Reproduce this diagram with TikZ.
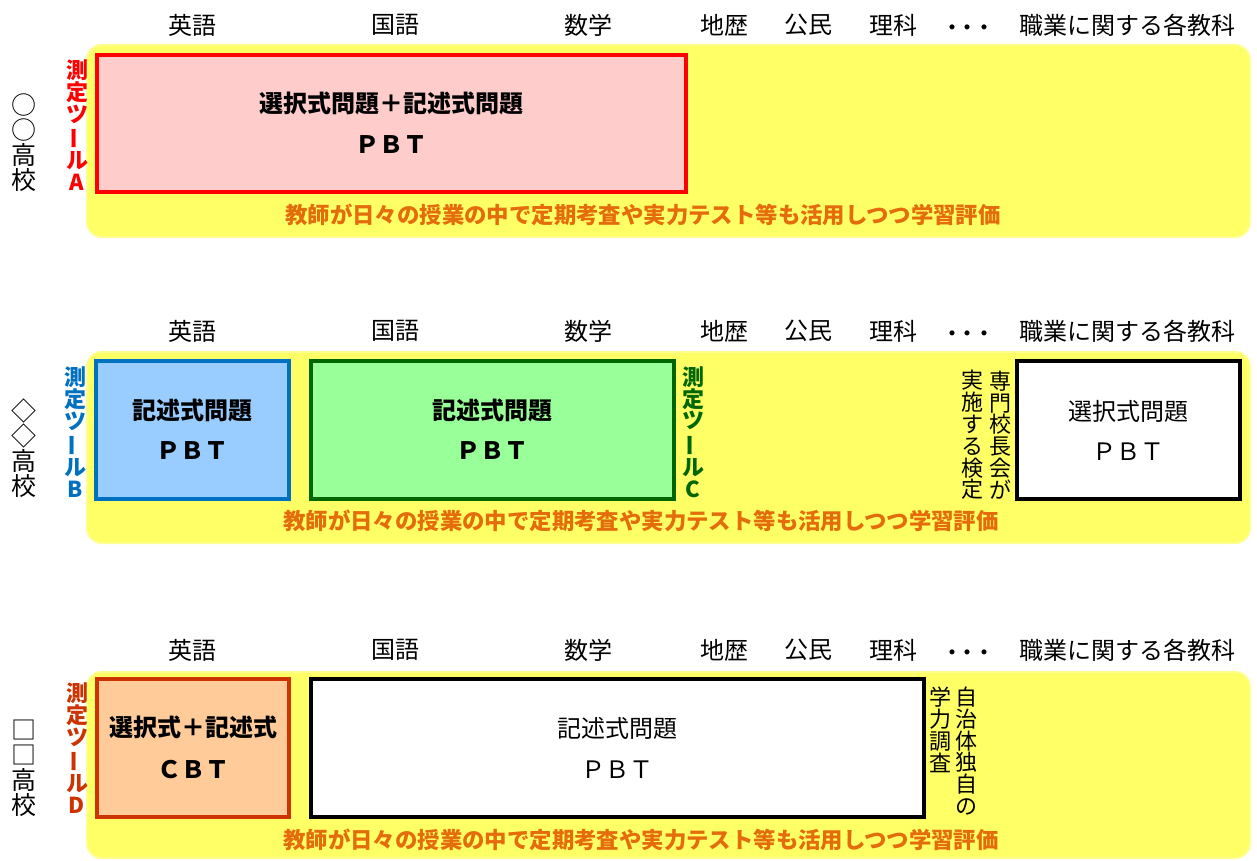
\documentclass[tikz,border=0pt]{standalone}
\usepackage{fontspec}
\setmainfont{Noto Sans CJK JP}
\usepackage{graphicx}

\definecolor{bandyellow}{RGB}{255,255,102}
\definecolor{bandedge}{RGB}{255,255,140}
\definecolor{redline}{RGB}{255,0,0}
\definecolor{redfill}{RGB}{255,204,204}
\definecolor{blueline}{RGB}{0,112,192}
\definecolor{bluefill}{RGB}{153,204,255}
\definecolor{greenline}{RGB}{0,102,0}
\definecolor{greenfill}{RGB}{153,255,153}
\definecolor{orline}{RGB}{204,51,0}
\definecolor{orfill}{RGB}{255,204,153}
\definecolor{evalorange}{RGB}{228,108,10}

% vertical long vowel mark
\newcommand{\chouon}{\rotatebox[origin=c]{90}{ー}}

\tikzset{
  band/.style={fill=bandyellow, draw=bandedge, line width=1pt, rounded corners=7.5pt},
  toolbox/.style={line width=2pt},
  subject/.style={font=\fontsize{12}{12}\selectfont, inner sep=0pt},
  boxtext/.style={font=\bfseries\fontsize{12}{12}\selectfont, inner sep=0pt},
  plaintext/.style={font=\fontsize{12}{12}\selectfont, inner sep=0pt},
  evaltext/.style={font=\bfseries\fontsize{11.2}{11.2}\selectfont, text=evalorange, inner sep=0pt},
  toollabel/.style={font=\bfseries\fontsize{11}{10.9}\selectfont, align=center, inner sep=0pt},
  tatetext/.style={font=\fontsize{11}{10.9}\selectfont, align=center, inner sep=0pt},
  school/.style={font=\fontsize{12.5}{12.5}\selectfont, align=center, inner sep=0pt}
}

\begin{document}
\begin{tikzpicture}[x=0.5pt,y=-0.5pt]
  \useasboundingbox (0,0) rectangle (1257,861);

  % subject headers of each school
  \foreach \y in {25,331,650}{
    \node[subject] at (192,\y) {英語};
    \node[subject] at (395,\y) {国語};
    \node[subject] at (588,\y) {数学};
    \node[subject] at (724,\y) {地歴};
    \node[subject] at (808,\y) {公民};
    \node[subject] at (893,\y) {理科};
    \node[subject] at (968,\y+6) {\bfseries ･\,･\,･};
    \node[subject] at (1127,\y) {職業に関する各教科};
  }

  % yellow bands
  \draw[band] (87,45) rectangle (1250,237);
  \draw[band] (87,352) rectangle (1250,543);
  \draw[band] (87,672) rectangle (1250,858);

  % school names
  \node[school] (s1) at (24,143) {○\\○\\高\\校};
  \node[school] (s2) at (24,448) {◇\\◇\\高\\校};
  \node[school] (s3) at (24,768) {□\\□\\高\\校};

  % first school
  \draw[toolbox, draw=redline, fill=redfill] (97,55) rectangle (686,192);
  \node[toollabel, text=redline] (ta) at (77,125) {測\\定\\ツ\\\chouon\\ル\\A};
  \node[boxtext] (a1) at (391,103) {選択式問題＋記述式問題};
  \node[boxtext] (a2) at (391,145) {ＰＢＴ};
  \node[evaltext] (e1) at (643,215) {教師が日々の授業の中で定期考査や実力テスト等も活用しつつ学習評価};

  % second school
  \draw[toolbox, draw=blueline, fill=bluefill] (96,361) rectangle (289,499);
  \draw[toolbox, draw=greenline, fill=greenfill] (311,361) rectangle (674,499);
  \draw[toolbox, draw=black, fill=white] (1017,361) rectangle (1240,499);
  \node[toollabel, text=blueline] (tb) at (75,432) {測\\定\\ツ\\\chouon\\ル\\B};
  \node[toollabel, text=greenline] (tc) at (693,432) {測\\定\\ツ\\\chouon\\ル\\C};
  \node[boxtext] (b1) at (192,410) {記述式問題};
  \node[boxtext] (b2) at (192,451) {ＰＢＴ};
  \node[boxtext] (c1) at (492,410) {記述式問題};
  \node[boxtext] (c2) at (492,451) {ＰＢＴ};
  \node[tatetext] (k1) at (1000,435) {専\\門\\校\\長\\会\\が};
  \node[tatetext] (k2) at (972,435) {実\\施\\す\\る\\検\\定};
  \node[plaintext] (k3) at (1128,411) {選択式問題};
  \node[plaintext] (k4) at (1128,452) {ＰＢＴ};
  \node[evaltext] (e2) at (641,521) {教師が日々の授業の中で定期考査や実力テスト等も活用しつつ学習評価};

  % third school
  \draw[toolbox, draw=orline, fill=orfill] (97,679) rectangle (289,817);
  \draw[toolbox, draw=black, fill=white] (311,679) rectangle (924,817);
  \node[toollabel, text=orline] (td) at (77,748) {測\\定\\ツ\\\chouon\\ル\\D};
  \node[boxtext] (d1) at (193,727) {選択式＋記述式};
  \node[boxtext] (d2) at (193,770) {ＣＢＴ};
  \node[plaintext] (j1) at (617,728) {記述式問題};
  \node[plaintext] (j2) at (617,770) {ＰＢＴ};
  \node[tatetext] (j3) at (966,751) {自\\治\\体\\独\\自\\の};
  \node[tatetext, anchor=north] (j4) at (940,687) {学\\力\\調\\査};
  \node[evaltext] (e3) at (641,840) {教師が日々の授業の中で定期考査や実力テスト等も活用しつつ学習評価};
\end{tikzpicture}
\end{document}
